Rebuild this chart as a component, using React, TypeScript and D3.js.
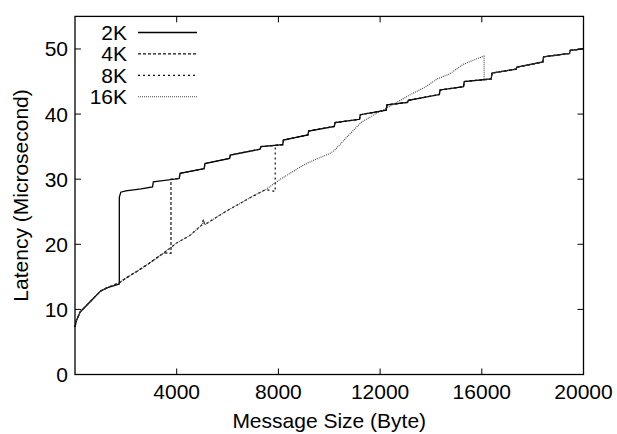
import React from 'react'
import * as d3 from 'd3'

// lower branch (below the eager/rendezvous switch)
const lowerSizes = [0, 50, 200, 500, 1000, 1250, 1750, 2000, 2500, 3000, 3500, 4000, 4500, 5000, 5050, 5100, 5500, 6000, 6500, 7000, 7500, 8000, 8500, 9000, 9500, 10000, 10200, 10700, 11250, 11800, 12250, 12750, 13250, 13750, 14250, 14750, 15250, 15750, 16080]
const lowerLatency = [7.3, 8.2, 9.6, 10.8, 12.8, 13.3, 14.1, 14.8, 16.0, 17.3, 18.7, 20.2, 21.3, 23.0, 23.8, 23.0, 24.0, 25.2, 26.3, 27.4, 28.4, 29.8, 31.0, 32.2, 33.1, 33.9, 34.4, 36.5, 38.7, 40.0, 40.9, 42.0, 43.1, 44.1, 45.4, 46.2, 47.6, 48.4, 48.9]

// upper branch (stairs)
const upperSizes = [1800, 2000, 2600, 3050, 3080, 4100, 4130, 5080, 5110, 6080, 6110, 7280, 7310, 8170, 8200, 9160, 9190, 10200, 10230, 11190, 11220, 12240, 12270, 13080, 13110, 14330, 14360, 15280, 15310, 16370, 16400, 17350, 17380, 18400, 18430, 19450, 19480, 20000]
const upperLatency = [28.0, 28.2, 28.5, 28.8, 29.6, 30.1, 30.9, 31.6, 32.4, 33.2, 33.7, 34.6, 35.0, 35.3, 36.0, 36.8, 37.4, 38.1, 38.7, 39.2, 39.9, 40.6, 41.4, 41.8, 42.1, 43.0, 43.7, 44.2, 45.0, 45.4, 46.3, 46.9, 47.2, 48.0, 48.8, 49.3, 49.8, 50.0]

const seriesNames = ['2K', '4K', '8K', '16K']
const jumpSize = [1743, 3775, 7875, 16090]
const jumpLow = [13.9, 18.6, 28.1, 48.9]
const jumpHigh = [27.2, 30.0, 35.2, 45.2]
const dashes = ['none', '3,2', '2,3', '1,1']
const strokes = ['#000', '#111', '#111', '#444']
const widths = [1.3, 1.2, 1.2, 1.1]

const xTicks = [4000, 8000, 12000, 16000, 20000]
const yTicks = [0, 10, 20, 30, 40, 50]

const buildSeries = (i: number) => {
    const pts: [number, number][] = []
    lowerSizes.forEach((s, k) => { if (s < jumpSize[i]) pts.push([s, lowerLatency[k]]) })
    pts.push([jumpSize[i], jumpLow[i]])
    pts.push([jumpSize[i], jumpHigh[i]])
    upperSizes.forEach((s, k) => { if (s > jumpSize[i]) pts.push([s, upperLatency[k]]) })
    return pts
}

export default function App() {
    const width = 617
    const height = 434
    const margin = { top: 16.4, right: 33.5, bottom: 59.5, left: 75 }

    const x = d3.scaleLinear().domain([0, 20000]).range([margin.left, width - margin.right])
    const y = d3.scaleLinear().domain([0, 55]).range([height - margin.bottom, margin.top])

    const line = d3.line<[number, number]>()
        .x(d => x(d[0]))
        .y(d => y(d[1]))

    const font = '"Liberation Sans", Arial, Helvetica, sans-serif'
    const tick = 6

    return (
        <svg width={width} height={height} viewBox={`0 0 ${width} ${height}`}
            style={{ position: 'fixed', left: 0, top: 0, background: '#fff' }}
            fontFamily={font}>
            <rect x={0} y={0} width={width} height={height} fill="#fff" />

            {/* series */}
            <g fill="none">
                {seriesNames.map((n, i) => (
                    <path key={n} d={line(buildSeries(i)) || ''}
                        stroke={strokes[i]} strokeWidth={widths[i]}
                        strokeDasharray={dashes[i]} />
                ))}
            </g>

            {/* ticks, mirrored inside on all sides */}
            <g stroke="#000" strokeWidth={1}>
                {xTicks.map(t => (
                    <g key={t}>
                        <line x1={x(t)} x2={x(t)} y1={y(0)} y2={y(0) - tick} />
                        <line x1={x(t)} x2={x(t)} y1={y(55)} y2={y(55) + tick} />
                    </g>
                ))}
                {yTicks.map(t => (
                    <g key={t}>
                        <line x1={x(0)} x2={x(0) + tick} y1={y(t)} y2={y(t)} />
                        <line x1={x(20000)} x2={x(20000) - tick} y1={y(t)} y2={y(t)} />
                    </g>
                ))}
            </g>

            <rect x={x(0)} y={y(55)} width={x(20000) - x(0)} height={y(0) - y(55)}
                fill="none" stroke="#000" strokeWidth={1.3} />

            {/* tick labels */}
            <g fontSize={21} fill="#000">
                {xTicks.map(t => (
                    <text key={t} x={x(t)} y={399} textAnchor="middle">{t}</text>
                ))}
                {yTicks.map(t => (
                    <text key={t} x={68} y={y(t) + 7.5} textAnchor="end">{t}</text>
                ))}
            </g>

            {/* axis titles */}
            <text x={(x(0) + x(20000)) / 2} y={428} textAnchor="middle" fontSize={21}>Message Size (Byte)</text>
            <text transform={`translate(28,${(y(0) + y(55)) / 2}) rotate(-90)`} textAnchor="middle" fontSize={21}>Latency (Microsecond)</text>

            {/* legend */}
            <g fontSize={21}>
                {seriesNames.map((n, i) => {
                    const ly = 32.5 + i * 21.4
                    return (
                        <g key={n}>
                            <text x={127} y={ly + 7.5} textAnchor="end">{n}</text>
                            <line x1={138} x2={197} y1={ly} y2={ly}
                                stroke={strokes[i]} strokeWidth={widths[i]} strokeDasharray={dashes[i]} />
                        </g>
                    )
                })}
            </g>
        </svg>
    )
}
